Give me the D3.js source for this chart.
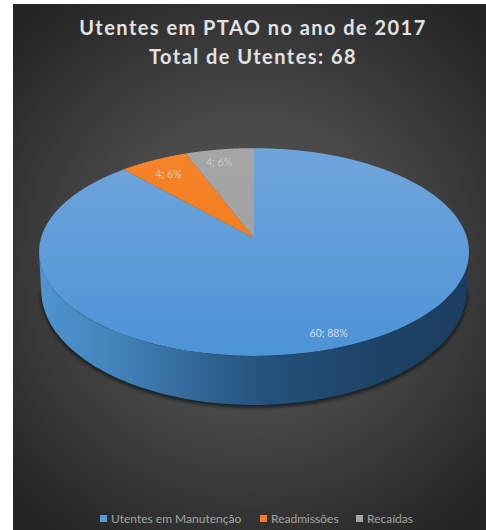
<!DOCTYPE html>
<html>
<head>
<meta charset="utf-8">
<script src="https://cdnjs.cloudflare.com/ajax/libs/d3/7.8.5/d3.min.js"></script>
<style>
html,body{margin:0;padding:0;background:#fff}
svg{display:block}
text{font-family:Lato,"Open Sans",sans-serif}
</style>
</head>
<body>
<script>
const categories = ["Utentes em Manutenção", "Readmissões", "Recaídas"];
const values = [60, 4, 4];
const percentLabels = ["88%", "6%", "6%"];
const titleLines = ["Utentes em PTAO no ano de 2017", "Total de Utentes: 68"];
const sliceColors = ["#5b9bd5", "#ed7d31", "#a5a5a5"];

const W = 486, H = 530;
const svg = d3.select("body").append("svg").attr("width", W).attr("height", H);
const defs = svg.append("defs");

// Panel background
const bg = defs.append("radialGradient").attr("id", "bg")
  .attr("gradientUnits", "userSpaceOnUse")
  .attr("cx", 250).attr("cy", 265).attr("r", 330);
bg.append("stop").attr("offset", 0).attr("stop-color", "#5a5a5a");
bg.append("stop").attr("offset", 0.45).attr("stop-color", "#484848");
bg.append("stop").attr("offset", 1).attr("stop-color", "#242424");
svg.append("rect").attr("x", 13).attr("y", 4).attr("width", W - 13).attr("height", H - 4).attr("fill", "url(#bg)");

// Tilted disc: circle coordinates pushed through a perspective projection
const cx = 254, cy = 238, R = 213, S = 102, k = 0.135;
const project = a => {
  const d = 1 + k * Math.cos(a);
  return [cx + R * Math.sin(a) / d, cy - S * Math.cos(a) / d];
};
// The underside sits closer to the viewer, so its outline is taller than the top one
const lower = ([x, y]) => [cx + (x - cx) * 0.99, 290 + (y - 252) * 1.106];
const line = d3.line();
const arcPoints = (a0, a1) => d3.range(0, 121).map(i => project(a0 + (a1 - a0) * i / 120));

const pie = d3.pie().sort(null).value(d => d)(values);

// Rim gradient runs from lit blue on the left to deep navy on the right
const rim = defs.append("linearGradient").attr("id", "rim")
  .attr("gradientUnits", "userSpaceOnUse").attr("x1", 39).attr("x2", 469).attr("y1", 0).attr("y2", 0);
[[0, "#4f95d0"], [0.2, "#4280b6"], [0.42, "#2c5f8d"], [0.55, "#234f78"], [0.8, "#1d4266"], [1, "#1b3d5e"]]
  .forEach(([o, c]) => rim.append("stop").attr("offset", o).attr("stop-color", c));

// Front half of the outline, used for the rim wall and its shadow
const front = arcPoints(Math.PI / 2 + 0.135, 3 * Math.PI / 2 - 0.135);
const underside = front.map(lower);
const wall = front.concat(underside.slice().reverse());

defs.append("filter").attr("id", "soft").append("feGaussianBlur").attr("stdDeviation", 2.2);
svg.append("path")
  .attr("d", line(underside.map(([x, y]) => [x, y + 2])) + "Z")
  .attr("fill", "#05080f").attr("opacity", 0.85).attr("filter", "url(#soft)");
svg.append("path").attr("d", line(wall) + "Z").attr("fill", "url(#rim)");

// Top surface shading for each slice
const surface = (id, c0, c1) => {
  const g = defs.append("linearGradient").attr("id", id)
    .attr("gradientUnits", "userSpaceOnUse").attr("x1", 0).attr("x2", 0).attr("y1", 148).attr("y2", 356);
  g.append("stop").attr("offset", 0).attr("stop-color", c0);
  g.append("stop").attr("offset", 1).attr("stop-color", c1);
};
surface("top0", "#70a5dc", "#4d93d6");
surface("top1", "#f4842c", "#f8760f");
surface("top2", "#a6a6a6", "#9c9c9c");

svg.append("g").selectAll("path").data(pie).join("path")
  .attr("d", d => line([[cx, cy], ...arcPoints(d.startAngle, d.endAngle)]) + "Z")
  .attr("fill", (d, i) => `url(#top${i})`);

// Data labels, placed along each slice's mid angle
const labelRadius = 0.78;
const labelOffset = [[6, 11], [-7, -2], [-8, -6]];
const labelOpacity = [0.85, 0.7, 0.55];
svg.append("g").selectAll("text").data(pie).join("text")
  .attr("x", (d, i) => {
    const m = (d.startAngle + d.endAngle) / 2;
    return cx + (project(m)[0] - cx) * labelRadius + labelOffset[i][0];
  })
  .attr("y", (d, i) => {
    const m = (d.startAngle + d.endAngle) / 2;
    return cy + (project(m)[1] - cy) * labelRadius + labelOffset[i][1];
  })
  .attr("text-anchor", "middle").attr("dominant-baseline", "middle")
  .attr("font-size", 10.5).attr("fill", "#e4e9ef").attr("fill-opacity", (d, i) => labelOpacity[i])
  .text((d, i) => `${values[i]}; ${percentLabels[i]}`);

// Title
svg.append("g").selectAll("text").data(titleLines).join("text")
  .attr("x", 253).attr("y", (d, i) => 35 + i * 29)
  .attr("text-anchor", "middle").attr("font-size", 20).attr("font-weight", 700)
  .attr("letter-spacing", 1.45).attr("fill", "#e2e2e2")
  .text(d => d);

// Legend
const legendX = [100, 260, 356];
const legend = svg.append("g").selectAll("g").data(categories).join("g")
  .attr("transform", (d, i) => `translate(${legendX[i]},523)`);
legend.append("rect").attr("x", 0).attr("y", -8).attr("width", 7).attr("height", 7)
  .attr("fill", (d, i) => sliceColors[i]);
legend.append("text").attr("x", 11).attr("y", 0).attr("font-size", 12)
  .attr("fill", "#a4a4a4").text(d => d);
</script>
</body>
</html>
